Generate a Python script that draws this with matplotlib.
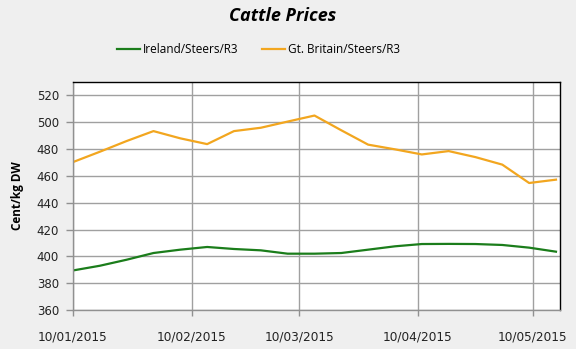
import numpy as np
import pandas as pd
import matplotlib
matplotlib.use("Agg")
import matplotlib.pyplot as plt
import matplotlib.dates as mdates

# ---------- Dados (semanais, cent/kg peso morto) ----------
semanas = pd.date_range("2015-01-10", "2015-05-16", freq="7D")
irlanda = [389.5, 393.0, 397.5, 402.5, 405.0, 407.0, 405.5, 404.5, 402.0, 402.0,
           402.5, 405.0, 407.5, 409.2, 409.3, 409.2, 408.5, 406.5, 403.5]
gb = [470.3, 478.0, 486.0, 493.4, 488.0, 483.7, 493.4, 495.9, 500.5, 505.0,
      494.0, 483.3, 479.8, 476.0, 478.5, 474.0, 468.4, 454.7, 457.2]
ticks_x = pd.to_datetime(["2015-01-10", "2015-02-10", "2015-03-10", "2015-04-10", "2015-05-10"])
ticks_y = np.arange(360, 521, 20)

fundo = "#efefef"
fig = plt.figure(figsize=(5.76, 3.49), dpi=100, facecolor=fundo)
ax = fig.add_axes([0.1267, 0.1117, 0.8463, 0.6533])
ax.set_facecolor("white")

l1, = ax.plot(semanas, irlanda, color="#1b7d1b", lw=1.6, label="Ireland/Steers/R3")
l2, = ax.plot(semanas, gb, color="#f2a61f", lw=1.6, label="Gt. Britain/Steers/R3")

ax.set_ylim(360, 530)
ax.set_yticks(ticks_y)
ax.set_xlim(pd.Timestamp("2015-01-10"), pd.Timestamp("2015-05-17 04:00"))
ax.set_xticks(ticks_x)
ax.xaxis.set_major_formatter(mdates.DateFormatter("%d/%m/%Y"))

ax.grid(True, color="#a0a0a0", lw=1.0)
ax.set_axisbelow(True)
for lado in ("top", "right"):
    ax.spines[lado].set_color("black")
    ax.spines[lado].set_linewidth(1.0)
for lado in ("left", "bottom"):
    ax.spines[lado].set_color("#909090")
    ax.spines[lado].set_linewidth(1.0)

ax.tick_params(axis="y", length=5, width=1, color="#909090", pad=5, labelsize=8.5, labelcolor="#222222")
ax.tick_params(axis="x", length=4, width=1, color="#909090", pad=11, labelsize=8.7, labelcolor="#222222")

ax.set_ylabel("Cent/kg DW", fontsize=8.5, fontweight="bold", family="Open Sans", labelpad=9)

fig.text(0.49, 0.954, "Cattle Prices", ha="center", va="center",
         fontsize=13, fontweight="bold", style="italic", family="Open Sans")
fig.legend(handles=[l1, l2], loc="center", bbox_to_anchor=(0.448, 0.857), ncol=2,
           frameon=False, handlelength=2.0, handletextpad=0.2,
           columnspacing=2.0, prop={"family": "Open Sans", "size": 8.5})

fig.savefig("out.png", dpi=100, facecolor=fundo)
